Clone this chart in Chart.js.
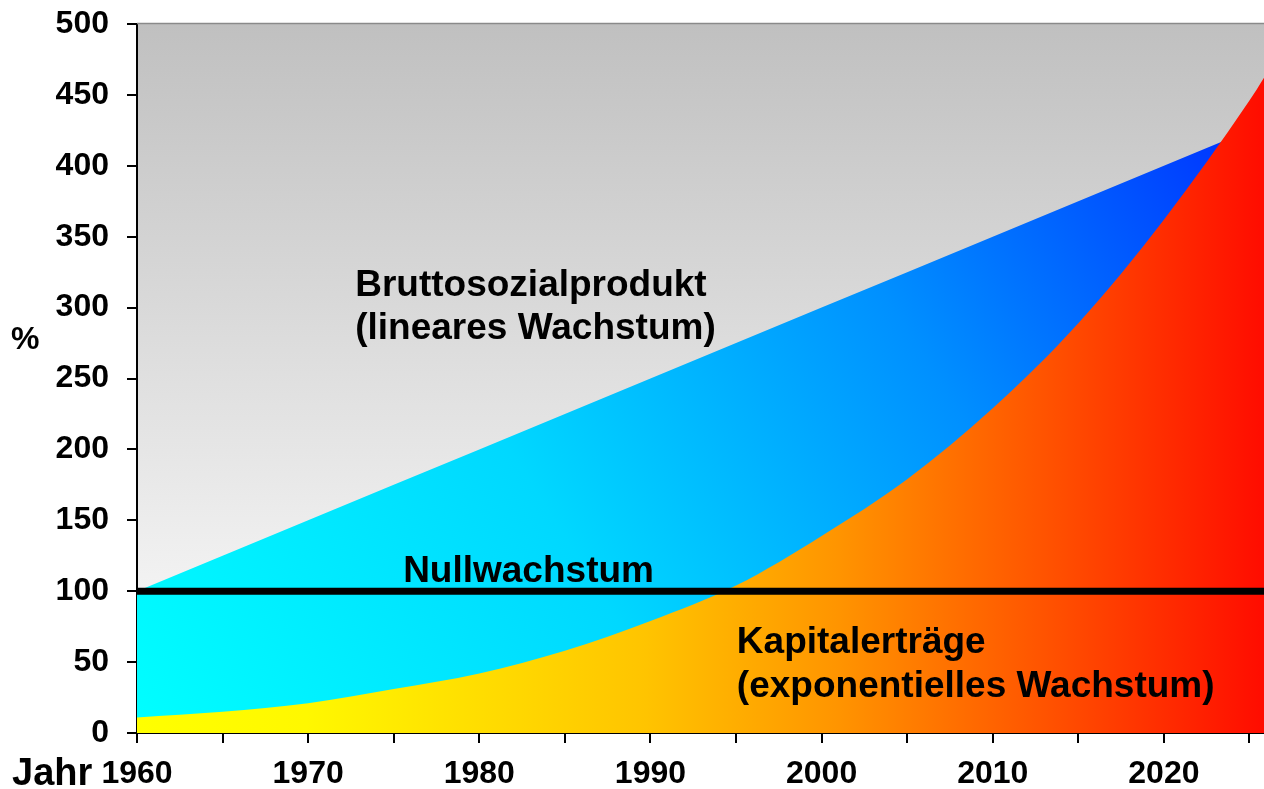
<!DOCTYPE html>
<html>
<head>
<meta charset="utf-8">
<script src="https://cdn.jsdelivr.net/npm/chart.js@4/dist/chart.umd.min.js"></script>
<style>
  html, body { margin: 0; padding: 0; background: #fff; }
  #wrap { width: 1264px; height: 789px; }
</style>
</head>
<body>
<div id="wrap"><canvas id="growth-chart"></canvas></div>
<script>
// years on the x axis
const years = [1960, 1965, 1970, 1975, 1980, 1985, 1990, 1995, 2000, 2005, 2010, 2015, 2020, 2025, 2026];
// Bruttosozialprodukt, linear
const gnpValues = [100, 125, 150, 175, 200, 225, 250, 275, 300, 325, 350, 375, 400, 425, 430];
// Kapitalertraege, exponential
const capitalValues = [11, 15, 21, 31, 42, 58, 79, 104, 139, 179, 229, 289, 362, 446, 465];
// Nullwachstum
const zeroGrowth = [100, 100, 100, 100, 100, 100, 100, 100, 100, 100, 100, 100, 100, 100, 100];
const yTickLabels = ['0', '50', '100', '150', '200', '250', '300', '350', '400', '450', '500'];
const xTickLabels = ['1960', '1970', '1980', '1990', '2000', '2010', '2020'];

const FONT = "'Liberation Sans', Arial, sans-serif";

function pts(vals) {
  return years.map((y, i) => ({ x: y, y: vals[i] }));
}

function blueFill(ctx) {
  const a = ctx.chart.chartArea;
  if (!a) return '#00e0ff';
  const g = ctx.chart.ctx.createLinearGradient(a.left, a.bottom, a.right, a.top);
  g.addColorStop(0, '#00ffff');
  g.addColorStop(0.35, '#00d8ff');
  g.addColorStop(0.65, '#0090ff');
  g.addColorStop(1, '#0020ff');
  return g;
}

function redFill(ctx) {
  const a = ctx.chart.chartArea;
  if (!a) return '#ff8000';
  const g = ctx.chart.ctx.createLinearGradient(a.left, 0, a.right, 0);
  g.addColorStop(0, '#ffff00');
  g.addColorStop(0.15, '#fff800');
  g.addColorStop(0.45, '#ffc400');
  g.addColorStop(0.62, '#ff9500');
  g.addColorStop(0.8, '#ff5500');
  g.addColorStop(1, '#ff0c00');
  return g;
}

// grey backdrop, top rule, labels
const decor = {
  id: 'decor',
  beforeDraw(chart) {
    const { ctx, chartArea: a } = chart;
    const g = ctx.createLinearGradient(0, a.top, 0, a.bottom);
    g.addColorStop(0, '#c0c0c0');
    g.addColorStop(1, '#ffffff');
    ctx.save();
    ctx.fillStyle = g;
    ctx.fillRect(a.left, a.top, a.right - a.left, a.bottom - a.top);
    ctx.restore();
  },
  afterDraw(chart) {
    const { ctx, chartArea: a, scales } = chart;
    const xs = scales.x;
    ctx.save();
    ctx.strokeStyle = '#8a8a8a';
    ctx.lineWidth = 1.5;
    ctx.beginPath();
    ctx.moveTo(a.left, a.top - 0.5);
    ctx.lineTo(a.right, a.top - 0.5);
    ctx.stroke();

    ctx.fillStyle = '#000';
    ctx.font = 'bold 37px ' + FONT;
    ctx.textBaseline = 'alphabetic';
    ctx.textAlign = 'left';
    ctx.fillText('Bruttosozialprodukt', xs.getPixelForValue(1972.75), 296);
    ctx.fillText('(lineares Wachstum)', xs.getPixelForValue(1972.75), 339);
    ctx.fillText('Nullwachstum', xs.getPixelForValue(1975.55), 582);
    ctx.fillText('Kapitalerträge', xs.getPixelForValue(1995.05), 653);
    ctx.fillText('(exponentielles Wachstum)', xs.getPixelForValue(1995.05), 697);
    ctx.font = 'bold 32px ' + FONT;
    ctx.fillText('%', 11, 349);
    ctx.font = 'bold 38px ' + FONT;
    ctx.fillText('Jahr', 12, 785);
    ctx.restore();
  }
};

const data = {
  datasets: [
    {
      label: 'Nullwachstum',
      data: pts(zeroGrowth),
      borderColor: '#000',
      borderWidth: 7,
      pointRadius: 0,
      fill: false,
      order: 0
    },
    {
      label: 'Kapitalerträge',
      data: pts(capitalValues),
      borderWidth: 0,
      borderColor: 'rgba(0,0,0,0)',
      backgroundColor: redFill,
      pointRadius: 0,
      cubicInterpolationMode: 'monotone',
      fill: 'origin',
      order: 1
    },
    {
      label: 'Bruttosozialprodukt',
      data: pts(gnpValues),
      borderWidth: 0,
      borderColor: 'rgba(0,0,0,0)',
      backgroundColor: blueFill,
      pointRadius: 0,
      fill: 'origin',
      order: 2
    }
  ]
};

const config = {
  type: 'line',
  data: data,
  options: {
    responsive: true,
    maintainAspectRatio: false,
    animation: false,
    layout: { padding: { top: 24, right: 0, left: 0, bottom: 0 } },
    plugins: { legend: { display: false }, tooltip: { enabled: false } },
    scales: {
      x: {
        type: 'linear',
        min: 1960,
        max: 2025.85,
        afterFit(s) { s.height = 56; s.paddingLeft = 0; s.paddingRight = 0; },
        border: { display: true, color: '#000', width: 2 },
        grid: { drawOnChartArea: false, drawTicks: true, tickLength: 10, color: '#000', lineWidth: 2 },
        ticks: {
          stepSize: 5,
          includeBounds: false,
          autoSkip: false,
          maxRotation: 0,
          padding: 12,
          color: '#000',
          font: { family: FONT, size: 32, weight: 'bold' },
          callback: (v) => xTickLabels.includes(String(v)) ? String(v) : ''
        }
      },
      y: {
        min: 0,
        max: 500,
        afterFit(s) { s.width = 137; s.paddingTop = 0; s.paddingBottom = 0; },
        border: { display: true, color: '#000', width: 2 },
        grid: { drawOnChartArea: false, drawTicks: true, tickLength: 10, color: '#000', lineWidth: 2 },
        ticks: {
          stepSize: 50,
          padding: 18,
          color: '#000',
          font: { family: FONT, size: 32, weight: 'bold' },
          callback: (v) => yTickLabels.includes(String(v)) ? String(v) : ''
        }
      }
    }
  },
  plugins: [decor]
};

const ctx = document.getElementById('growth-chart').getContext('2d');
const chart = new Chart(ctx, config);
</script>
</body>
</html>
